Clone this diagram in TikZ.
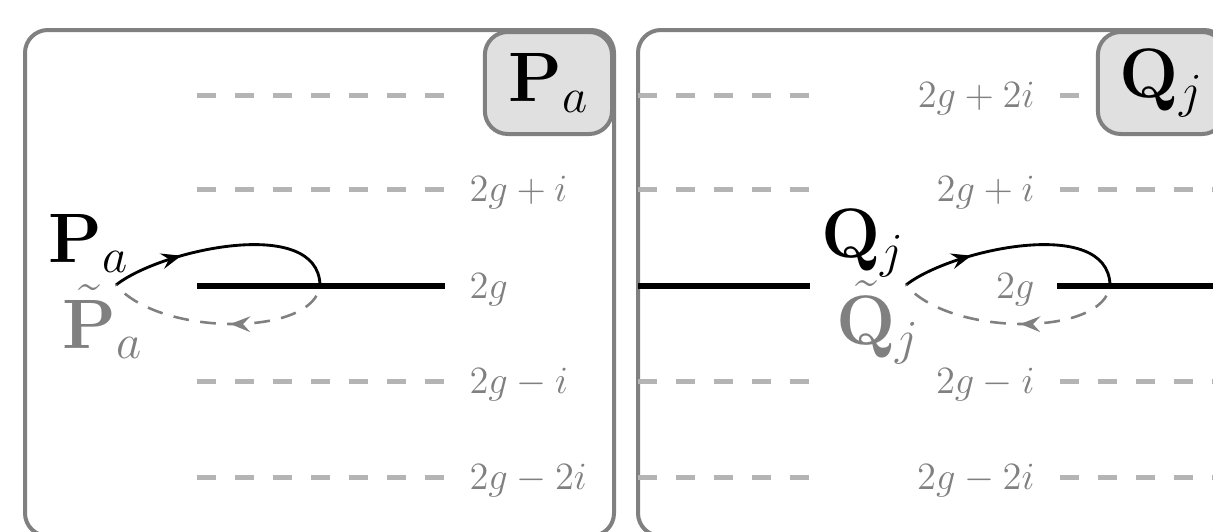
\RequirePackage{fix-cm}
\documentclass[tikz,border=0pt]{standalone}
\usepackage{amsmath,amssymb}
\usepackage{tikz}
\usetikzlibrary{arrows.meta,decorations.markings}
\definecolor{frame}{RGB}{128,128,128}
\definecolor{level}{RGB}{180,180,180}
\definecolor{tag}{RGB}{224,224,224}

\begin{document}
\begin{tikzpicture}[x=0.35pt, y=-0.35pt,
  panel/.style={draw=frame, line width=1.4pt, rounded corners=8pt},
  tagbox/.style={panel, fill=tag, minimum width=44.5pt, minimum height=35.7pt, inner sep=0pt, font=\fontsize{24.5}{29}\selectfont},
  lvl/.style={draw=level, line width=1.75pt, dash pattern=on 6.65pt off 6.65pt},
  cut/.style={line width=2pt},
  lab/.style={text=frame, inner sep=0pt, font=\fontsize{13.5}{16}\selectfont},
  big/.style={inner sep=0pt, font=\fontsize{24.5}{29}\selectfont},
  fwd/.style={line width=1pt, postaction={decorate}, decoration={markings, mark=at position 0.31 with {\arrow{Stealth[length=7pt, width=5.5pt, inset=2.5pt]}}}},
  bwd/.style={draw=frame, line width=0.9pt, dash pattern=on 5.5pt off 4pt, dash phase=5.5pt, postaction={decorate}, decoration={markings, mark=at position 0.46 with {\arrow{Stealth[length=7pt, width=5.5pt, inset=2.5pt]}}}}]
\useasboundingbox (0,0) rectangle (1213,531);
\clip (0,0) rectangle (1213,531);

\draw[panel] (25,30) rectangle (614,536);
\draw[panel] (638,30) rectangle (1227,536);

\draw[lvl] (197,95) -- (445,95);
\draw[lvl] (197,189) -- (445,189);
\draw[cut] (197,286) -- (445,286);
\draw[lvl] (197,381) -- (445,381);
\draw[lvl] (197,477) -- (445,477);

\draw[lvl] (638,95) -- (810,95) (1060,95) -- (1240,95);
\draw[lvl] (638,189) -- (810,189) (1060,189) -- (1240,189);
\draw[cut] (638,286) -- (810,286) (1057,286) -- (1240,286);
\draw[lvl] (638,381) -- (810,381) (1060,381) -- (1240,381);
\draw[lvl] (638,477) -- (810,477) (1060,477) -- (1240,477);

\node[tagbox, anchor=north east] (ptag) at (614,30) {$\mathbf{P}_a$};
\node[tagbox, anchor=north east] (qtag) at (1227,30) {$\mathbf{Q}_j$};

\node[lab, anchor=base west] (pl1) at (469,201) {$2g+i$};
\node[lab, anchor=base west] (pl0) at (469,298) {$2g$};
\node[lab, anchor=base west] (pm1) at (469,393) {$2g-i$};
\node[lab, anchor=base west] (pm2) at (469,489) {$2g-2i$};

\node[lab, anchor=base east] (ql2) at (1035,107) {$2g+2i$};
\node[lab, anchor=base east] (ql1) at (1035,201) {$2g+i$};
\node[lab, anchor=base east] (ql0) at (1035,298) {$2g$};
\node[lab, anchor=base east] (qm1) at (1035,393) {$2g-i$};
\node[lab, anchor=base east] (qm2) at (1035,489) {$2g-2i$};

\coordinate (ps) at (116,285);
\coordinate (pe) at (320,285);
\draw[fwd] (ps) .. controls +(44,-35) and +(-2,-70) .. (pe);
\draw[bwd] (pe) .. controls +(-5,52) and +(44,52) .. (ps);
\node[big, anchor=base west] (pa) at (48,262) {$\mathbf{P}_a$};
\node[big, anchor=base west, text=frame] (pat) at (62,348) {$\tilde{\mathbf{P}}_a$};

\coordinate (qs) at (906,285);
\coordinate (qe) at (1110,285);
\draw[fwd] (qs) .. controls +(44,-35) and +(-2,-70) .. (qe);
\draw[bwd] (qe) .. controls +(-5,52) and +(44,52) .. (qs);
\node[big, anchor=base west] (qa) at (821,257) {$\mathbf{Q}_j$};
\node[big, anchor=base west, text=frame] (qat) at (836,344) {$\tilde{\mathbf{Q}}_j$};
\end{tikzpicture}
\end{document}
